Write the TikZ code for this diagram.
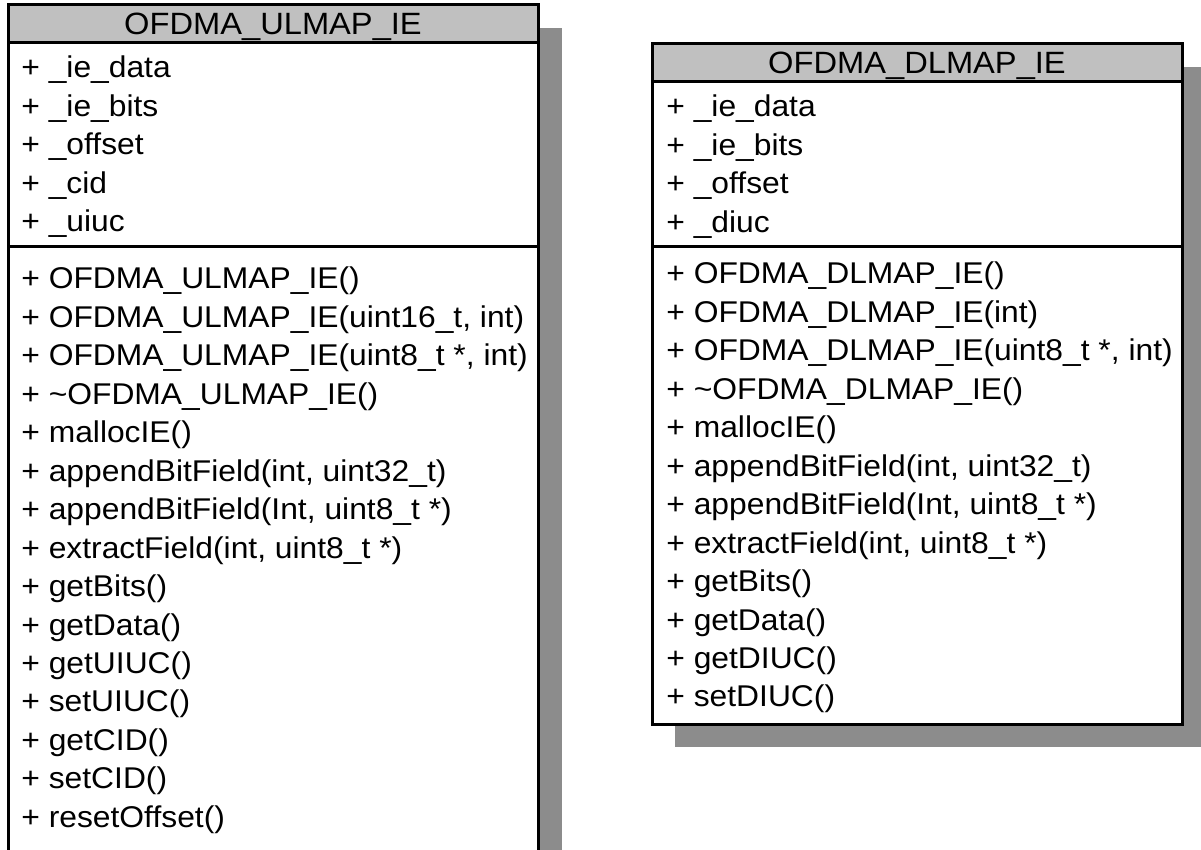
\documentclass[tikz,border=0pt]{standalone}
\usepackage{fontspec}
\setmainfont{Liberation Sans}[FakeStretch=1.06]
\definecolor{headgray}{RGB}{192,192,192}
\definecolor{shadowgray}{RGB}{140,140,140}
\tikzset{
  classbox/.style={draw=black, line width=1.5pt, fill=white},
  classhead/.style={draw=black, line width=1.5pt, fill=headgray},
  classshadow/.style={fill=shadowgray},
  member/.style={anchor=base west, inner sep=0pt, font=\fontsize{15}{17}\selectfont},
  classname/.style={anchor=base, inner sep=0pt, font=\fontsize{15.4}{17}\selectfont}
}
\begin{document}
\begin{tikzpicture}[x=0.5pt, y=-0.5pt]
    \def\ly{38.45}
    \def\ulx{21}
    \def\dlx{666}
    \path[use as bounding box, clip] (0,0) rectangle (1201,850);
    % shadows
    \fill[classshadow] (31,28) rectangle (562,900);
    \fill[classshadow] (675,67) rectangle (1205,747);
    % OFDMA_ULMAP_IE
    \draw[classbox] (8,5) rectangle (538,900);
    \draw[classhead] (8,5) rectangle (538,43);
    \draw[line width=1.5pt] (8,247) -- (538,247);
    \node[classname] (U0) at (273, 35) {OFDMA\_ULMAP\_IE};
    \node[member] (U1_0) at (\ulx, 78+0*\ly) {+ \_ie\_data};
    \node[member] (U1_1) at (\ulx, 78+1*\ly) {+ \_ie\_bits};
    \node[member] (U1_2) at (\ulx, 78+2*\ly) {+ \_offset};
    \node[member] (U1_3) at (\ulx, 78+3*\ly) {+ \_cid};
    \node[member] (U1_4) at (\ulx, 78+4*\ly) {+ \_uiuc};
    \node[member] (U2_0) at (\ulx, 289+0*\ly) {+ OFDMA\_ULMAP\_IE()};
    \node[member] (U2_1) at (\ulx, 289+1*\ly) {+ OFDMA\_ULMAP\_IE(uint16\_t, int)};
    \node[member] (U2_2) at (\ulx, 289+2*\ly) {+ OFDMA\_ULMAP\_IE(uint8\_t *, int)};
    \node[member] (U2_3) at (\ulx, 289+3*\ly) {+ \textasciitilde OFDMA\_ULMAP\_IE()};
    \node[member] (U2_4) at (\ulx, 289+4*\ly) {+ mallocIE()};
    \node[member] (U2_5) at (\ulx, 289+5*\ly) {+ appendBitField(int, uint32\_t)};
    \node[member] (U2_6) at (\ulx, 289+6*\ly) {+ appendBitField(Int, uint8\_t *)};
    \node[member] (U2_7) at (\ulx, 289+7*\ly) {+ extractField(int, uint8\_t *)};
    \node[member] (U2_8) at (\ulx, 289+8*\ly) {+ getBits()};
    \node[member] (U2_9) at (\ulx, 289+9*\ly) {+ getData()};
    \node[member] (U2_10) at (\ulx, 289+10*\ly) {+ getUIUC()};
    \node[member] (U2_11) at (\ulx, 289+11*\ly) {+ setUIUC()};
    \node[member] (U2_12) at (\ulx, 289+12*\ly) {+ getCID()};
    \node[member] (U2_13) at (\ulx, 289+13*\ly) {+ setCID()};
    \node[member] (U2_14) at (\ulx, 289+14*\ly) {+ resetOffset()};
    % OFDMA_DLMAP_IE
    \draw[classbox] (652,44) rectangle (1182,724);
    \draw[classhead] (652,44) rectangle (1182,82);
    \draw[line width=1.5pt] (652,247) -- (1182,247);
    \node[classname] (D0) at (917, 74) {OFDMA\_DLMAP\_IE};
    \node[member] (D1_0) at (\dlx, 117+0*\ly) {+ \_ie\_data};
    \node[member] (D1_1) at (\dlx, 117+1*\ly) {+ \_ie\_bits};
    \node[member] (D1_2) at (\dlx, 117+2*\ly) {+ \_offset};
    \node[member] (D1_3) at (\dlx, 117+3*\ly) {+ \_diuc};
    \node[member] (D2_0) at (\dlx, 284+0*\ly) {+ OFDMA\_DLMAP\_IE()};
    \node[member] (D2_1) at (\dlx, 284+1*\ly) {+ OFDMA\_DLMAP\_IE(int)};
    \node[member] (D2_2) at (\dlx, 284+2*\ly) {+ OFDMA\_DLMAP\_IE(uint8\_t *, int)};
    \node[member] (D2_3) at (\dlx, 284+3*\ly) {+ \textasciitilde OFDMA\_DLMAP\_IE()};
    \node[member] (D2_4) at (\dlx, 284+4*\ly) {+ mallocIE()};
    \node[member] (D2_5) at (\dlx, 284+5*\ly) {+ appendBitField(int, uint32\_t)};
    \node[member] (D2_6) at (\dlx, 284+6*\ly) {+ appendBitField(Int, uint8\_t *)};
    \node[member] (D2_7) at (\dlx, 284+7*\ly) {+ extractField(int, uint8\_t *)};
    \node[member] (D2_8) at (\dlx, 284+8*\ly) {+ getBits()};
    \node[member] (D2_9) at (\dlx, 284+9*\ly) {+ getData()};
    \node[member] (D2_10) at (\dlx, 284+10*\ly) {+ getDIUC()};
    \node[member] (D2_11) at (\dlx, 284+11*\ly) {+ setDIUC()};
  \end{tikzpicture}
\end{document}
